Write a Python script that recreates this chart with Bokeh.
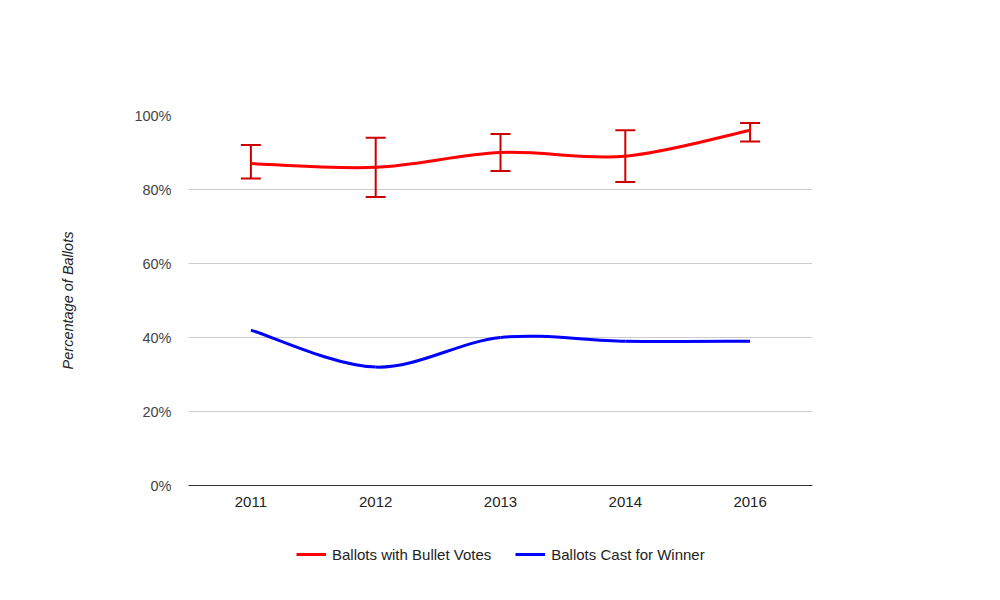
from bokeh.plotting import figure
from bokeh.layouts import column
from bokeh.models import (ColumnDataSource, Whisker, TeeHead, FixedTicker, PrintfTickFormatter,
                          Legend, LegendItem, Range1d)
from bokeh.embed import file_html
from bokeh.resources import INLINE

years = ["2011", "2012", "2013", "2014", "2016"]
bullet = [87, 86, 90, 89, 96]
bullet_low = [83, 78, 85, 82, 93]
bullet_high = [92, 94, 95, 96, 98]
winner = [42, 32, 40, 39, 39]
y_ticks = [0, 20, 40, 60, 80, 100]

FONT = "Liberation Sans"
xs = list(range(len(years)))

p = figure(width=984, height=525, output_backend="svg", toolbar_location=None,
           x_range=Range1d(-0.5, len(years) - 0.5), y_range=Range1d(0, 100),
           min_border_left=188, min_border_right=172, min_border_top=115, min_border_bottom=40)
p.outline_line_color = None
p.background_fill_color = "white"
p.border_fill_color = "white"

# grid
p.xgrid.grid_line_color = None
p.ygrid.grid_line_color = "#cccccc"
p.ygrid.ticker = FixedTicker(ticks=y_ticks)

# axes
p.xaxis.ticker = FixedTicker(ticks=xs)
p.xaxis.major_label_overrides = {i: y for i, y in enumerate(years)}
p.xaxis.axis_line_color = "#333333"
p.xaxis.major_tick_line_color = None
p.xaxis.minor_tick_line_color = None
p.xaxis.major_label_text_font = FONT
p.xaxis.major_label_text_font_size = "15px"
p.xaxis.major_label_text_color = "#222222"
p.xaxis.major_label_standoff = 5

p.yaxis.ticker = FixedTicker(ticks=y_ticks)
p.yaxis.formatter = PrintfTickFormatter(format="%d%%")
p.yaxis.axis_line_color = None
p.yaxis.major_tick_line_color = None
p.yaxis.minor_tick_line_color = None
p.yaxis.major_label_text_font = FONT
p.yaxis.major_label_text_font_size = "14.5px"
p.yaxis.major_label_text_color = "#444444"
p.yaxis.major_label_standoff = 11
p.yaxis.axis_label = "Percentage of Ballots"
p.yaxis.axis_label_text_font = FONT
p.yaxis.axis_label_text_font_size = "14.5px"
p.yaxis.axis_label_text_font_style = "italic"
p.yaxis.axis_label_text_color = "#222222"
p.yaxis.axis_label_standoff = 55


def smooth(ys):
    n = len(ys)
    d = dict(x0=[], y0=[], x1=[], y1=[], cx0=[], cy0=[], cx1=[], cy1=[])
    def tangent(i):
        a = max(i - 1, 0)
        b = min(i + 1, n - 1)
        return (xs[b] - xs[a]) / 6.0, (ys[b] - ys[a]) / 6.0
    for i in range(n - 1):
        tx0, ty0 = tangent(i)
        tx1, ty1 = tangent(i + 1)
        d["x0"].append(xs[i]); d["y0"].append(ys[i])
        d["x1"].append(xs[i + 1]); d["y1"].append(ys[i + 1])
        d["cx0"].append(xs[i] + tx0); d["cy0"].append(ys[i] + ty0)
        d["cx1"].append(xs[i + 1] - tx1); d["cy1"].append(ys[i + 1] - ty1)
    return ColumnDataSource(d)


p.bezier(x0="x0", y0="y0", x1="x1", y1="y1", cx0="cx0", cy0="cy0", cx1="cx1", cy1="cy1",
         source=smooth(winner), line_color="#0000ff", line_width=3)
p.bezier(x0="x0", y0="y0", x1="x1", y1="y1", cx0="cx0", cy0="cy0", cx1="cx1", cy1="cy1",
         source=smooth(bullet), line_color="#ff0000", line_width=3)

err_src = ColumnDataSource(dict(x=xs, lower=bullet_low, upper=bullet_high))
wh = Whisker(base="x", lower="lower", upper="upper", source=err_src,
             line_color="#cc0000", line_width=2,
             upper_head=TeeHead(size=20, line_color="#cc0000", line_width=2),
             lower_head=TeeHead(size=20, line_color="#cc0000", line_width=2))
p.add_layout(wh)

# separate strip holding the legend beneath the chart; its series lie outside
# the strip's ranges, so only their legend swatches are seen
lf = figure(width=984, height=59, output_backend="svg", toolbar_location=None,
            x_range=Range1d(-0.5, len(years) - 0.5), y_range=Range1d(-2, -1),
            min_border_left=188, min_border_right=172, min_border_top=0, min_border_bottom=0)
lf.axis.visible = False
lf.grid.visible = False
lf.outline_line_color = None
lf.border_fill_color = "white"
r_red = lf.line(x=xs, y=bullet, line_color="#ff0000", line_width=3)
r_blue = lf.line(x=xs, y=winner, line_color="#0000ff", line_width=3)
legend = Legend(items=[LegendItem(label="Ballots with Bullet Votes", renderers=[r_red]),
                       LegendItem(label="Ballots Cast for Winner", renderers=[r_blue])],
                orientation="horizontal", location=(108, 20))
legend.label_text_font = FONT
legend.label_text_font_size = "15px"
legend.label_text_color = "#222222"
legend.glyph_width = 30
legend.glyph_height = 20
legend.label_standoff = 6
legend.spacing = 24
legend.padding = 0
legend.margin = 0
legend.border_line_color = None
legend.background_fill_alpha = 0
lf.add_layout(legend)

layout = column(p, lf, spacing=0)
open("out.html", "w").write(file_html(layout, INLINE))
